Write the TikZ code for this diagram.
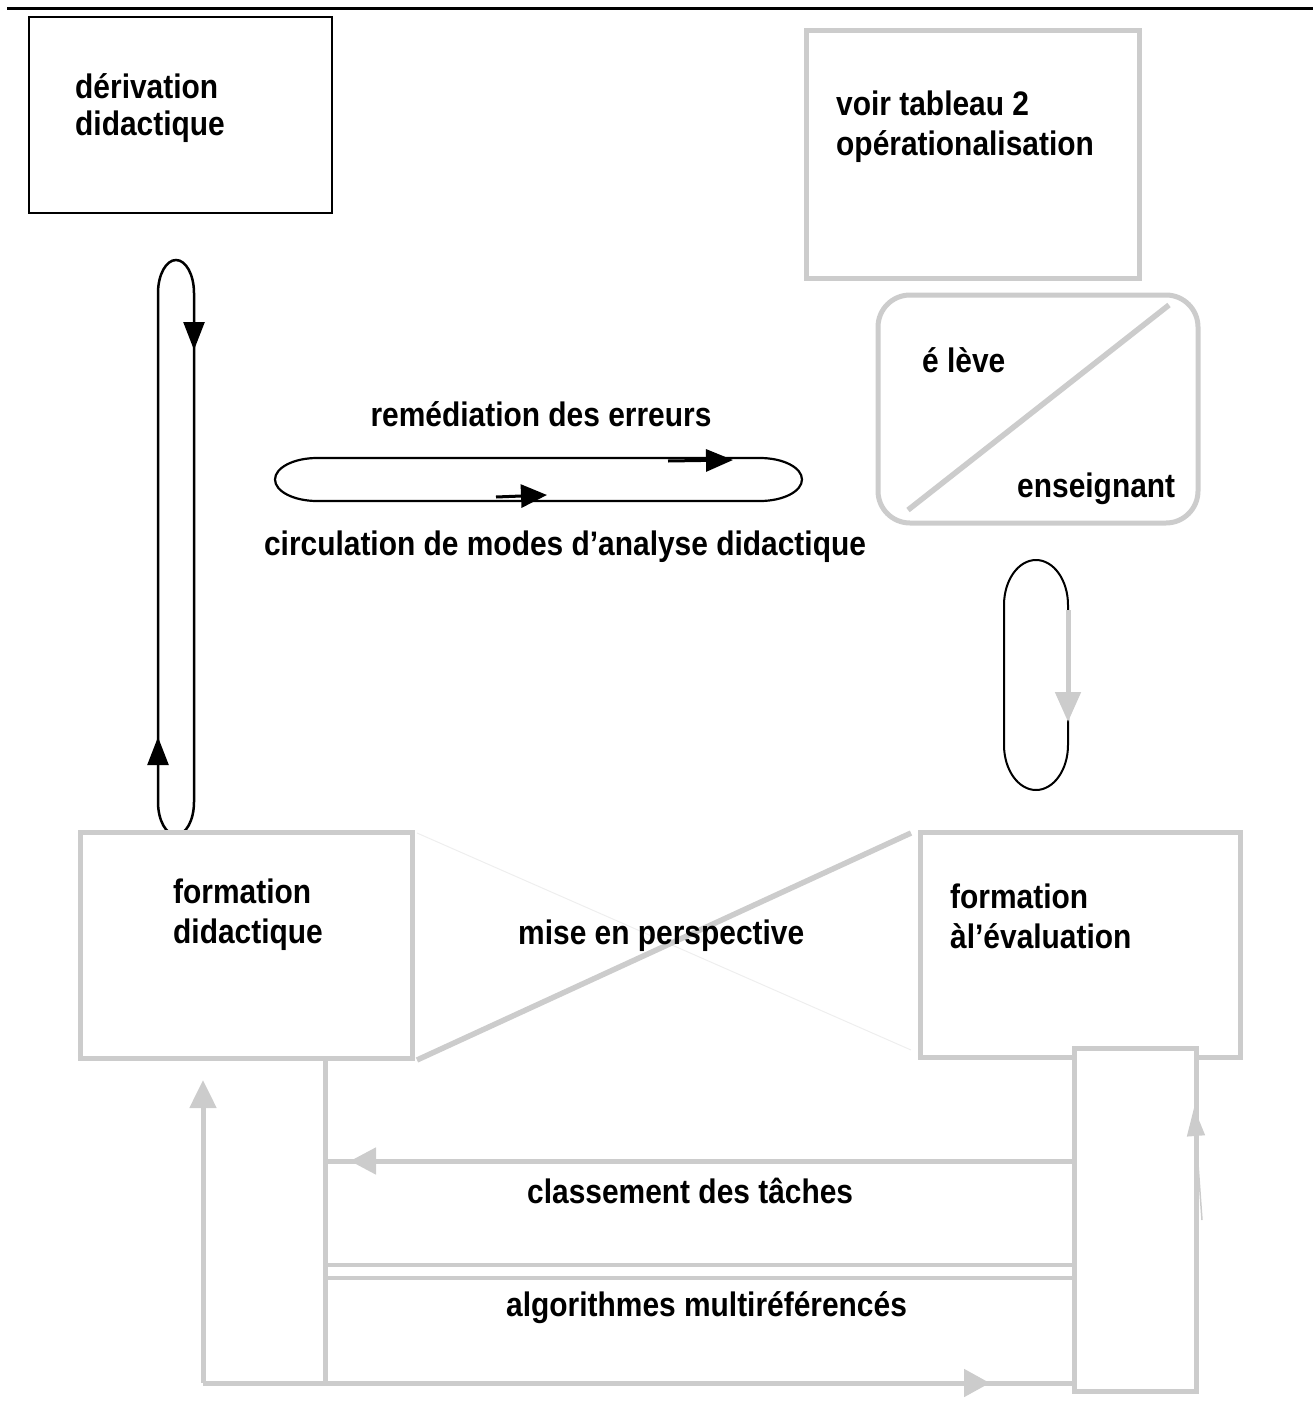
\documentclass[tikz,border=0pt]{standalone}
\usepackage{fontspec}
\newfontfamily\hvb{Liberation Sans}[FakeStretch=0.88]
\usetikzlibrary{arrows.meta}
\definecolor{lg}{HTML}{CCCCCC}
\definecolor{vlg}{HTML}{EEEEEE}
\begin{document}
\begin{tikzpicture}[x=1pt,y=-1pt,
  txt/.style={font=\hvb\bfseries\fontsize{34}{40}\selectfont, inner sep=0pt, anchor=base west},
  txtc/.style={txt, anchor=base},
  gline/.style={draw=lg, line width=5pt},
  bline/.style={draw=black, line width=2.5pt},
  gbox/.style={draw=lg, line width=5pt, fill=white, inner sep=0pt, outer sep=0pt},
  bbox/.style={draw=black, line width=2.5pt, fill=white, inner sep=0pt, outer sep=0pt},
  btip/.style={-{Triangle[length=28pt,width=21pt]}},
  gtip/.style={-{Triangle[length=28pt,width=26pt]}}]
\useasboundingbox (0,0) rectangle (1313,1405);
% top rule
\draw[line width=3.3pt] (7,8.5) -- (1313,8.5);

% boxes at top
\node[bbox, minimum width=303pt, minimum height=196pt] (der) at (180.5,115) {};
\node[gbox, minimum width=333pt, minimum height=247pt] (voir) at (972.5,154.5) {};
\node[gbox, rounded corners=32pt, minimum width=320pt, minimum height=228pt] (rb) at (1038,409) {};
\coordinate (d1) at (908,510);
\coordinate (d2) at (1169,305);
\draw[draw=lg, line width=5.5pt] (d1) -- (d2);

\node[txt] (t1) at (75,99) {dérivation};
\node[txt] (t2) at (75,135) {didactique};
\node[txt] (t3) at (836,115) {voir tableau 2};
\node[txt] (t4) at (836,155) {opérationalisation};
\node[txt] (t5) at (922,372) {é lève};
\node[txt] (t6) at (1017,497) {enseignant};

% left tall loop
\draw[bline] (158,802) -- (158,293) arc[start angle=180, end angle=360, x radius=18, y radius=33]
  -- (194,802) arc[start angle=0, end angle=180, x radius=18, y radius=33] -- cycle;
\coordinate (la1) at (194,318);
\coordinate (la2) at (194,350);
\draw[line width=2.5pt, btip] (la1) -- (la2);
\coordinate (lb1) at (158,770);
\coordinate (lb2) at (158,737);
\draw[line width=2.5pt, btip] (lb1) -- (lb2);

% horizontal loop
\draw[line width=2.2pt] (317,458) -- (760,458) arc[start angle=-90, end angle=90, x radius=42, y radius=21.5]
  -- (317,501) arc[start angle=90, end angle=270, x radius=42, y radius=21.5] -- cycle;
\coordinate (ha1) at (668,461);
\coordinate (ha2) at (733,460);
\draw[line width=3pt, -{Triangle[length=27pt,width=22pt]}] (ha1) -- (ha2);
\coordinate (hb1) at (496,497);
\coordinate (hb2) at (547,495);
\draw[line width=3pt, -{Triangle[length=26pt,width=23pt]}] (hb1) -- (hb2);
\node[txtc] (t7) at (541,426) {remédiation des erreurs};
\node[txtc] (t8) at (565,555) {circulation de modes d’analyse didactique};

% small right loop
\draw[line width=2pt] (1004,745) -- (1004,605) arc[start angle=180, end angle=360, x radius=32, y radius=45]
  -- (1068,745) arc[start angle=0, end angle=180, x radius=32, y radius=45] -- cycle;
\coordinate (ra1) at (1068,610);
\coordinate (ra2) at (1068,722);
\draw[draw=lg, fill=lg, line width=5pt, -{Triangle[length=30pt,width=25pt]}] (ra1) -- (ra2);

% middle boxes
\node[gbox, minimum width=332pt, minimum height=226pt] (fd) at (246,945) {};
\node[gbox, minimum width=320pt, minimum height=225pt] (fe) at (1080,944.5) {};
\node[txt] (t9) at (173,903) {formation};
\node[txt] (t10) at (173,943) {didactique};
\node[txt] (t11) at (950,908) {formation};
\node[txt] (t12) at (950,948) {àl’évaluation};

\coordinate (x1) at (417,1060);
\coordinate (x2) at (911,833);
\coordinate (y1) at (417,833);
\coordinate (y2) at (911,1050);
\draw[draw=vlg, line width=1pt] (y1) -- (y2);
\draw[draw=lg, line width=5.5pt] (x1) -- (x2);
\node[txt] (t13) at (518,944) {mise en perspective};

% bottom structure
\coordinate (bl) at (203,1383);
\coordinate (blt) at (203,1080);
\coordinate (v1) at (325,1058);
\coordinate (v2) at (325,1383);
\coordinate (br) at (1074,1383);
\coordinate (h1a) at (1074,1161);
\coordinate (h1b) at (325,1161);
\coordinate (h2a) at (325,1265);
\coordinate (h2b) at (1074,1265);
\coordinate (h3a) at (325,1278);
\coordinate (h3b) at (1074,1278);
\draw[gline, draw=lg, fill=lg, gtip] (bl) -- (blt);
\draw[gline] (v1) -- (v2);
\draw[gline] (bl) -- (br);
\coordinate (bra) at (940,1383);
\coordinate (brb) at (990,1383);
\draw[draw=lg, fill=lg, line width=5pt, -{Triangle[length=26pt,width=27pt]}] (bra) -- (brb);
\draw[gline] (h1a) -- (h1b);
\coordinate (hla) at (400,1161);
\coordinate (hlb) at (350,1161);
\draw[draw=lg, fill=lg, line width=5pt, -{Triangle[length=26pt,width=26pt]}] (hla) -- (hlb);
\draw[gline, line width=4.5pt] (h2a) -- (h2b);
\draw[gline, line width=4.5pt] (h3a) -- (h3b);

\node[gbox, minimum width=122pt, minimum height=343pt] (rr) at (1135,1219.5) {};
\coordinate (rra) at (1202,1220);
\coordinate (rrb) at (1194,1108);
\draw[draw=lg, fill=lg, line width=1.5pt, -{Triangle[length=28pt,width=18pt]}] (rra) -- (rrb);

\node[txt] (t14) at (527,1203) {classement des tâches};
\node[txt] (t15) at (506,1316) {algorithmes multiréférencés};
\end{tikzpicture}
\end{document}
